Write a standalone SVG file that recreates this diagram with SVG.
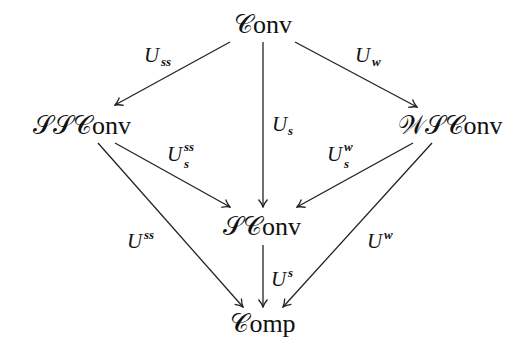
<svg xmlns="http://www.w3.org/2000/svg" width="513" height="342" viewBox="0 0 513 342">
<style>
.node{font-family:"Liberation Serif","DejaVu Serif",serif;font-size:26px;fill:#111;text-anchor:middle}
.lab{font-family:"Liberation Serif","DejaVu Serif",serif;font-style:italic;font-size:21px;fill:#111}
.sc{font-family:"Liberation Serif","DejaVu Serif",serif;font-style:italic;font-size:13px;font-weight:bold;fill:#111}
.e{stroke:#222;stroke-width:1.3;fill:none;marker-end:url(#ah)}
</style>
<defs>
<marker id="ah" markerUnits="userSpaceOnUse" viewBox="-9 -6 10 12" refX="0" refY="0" markerWidth="10" markerHeight="12" orient="auto">
<path d="M-7.5,-4.5 C-4.5,-2 -1.8,-0.6 0,0 C-1.8,0.6 -4.5,2 -7.5,4.5" stroke="#222" stroke-width="1.3" fill="none"/>
</marker>
</defs>
<g id="connectors">
<line class="e" x1="230" y1="42" x2="115" y2="105"/>
<line class="e" x1="295" y1="42" x2="417" y2="107"/>
<line class="e" x1="263" y1="42" x2="263" y2="207"/>
<line class="e" x1="115" y1="143" x2="230" y2="207"/>
<line class="e" x1="413" y1="143" x2="297" y2="207"/>
<line class="e" x1="98" y1="143" x2="243" y2="307"/>
<line class="e" x1="432" y1="143" x2="283" y2="307"/>
<line class="e" x1="263" y1="245" x2="263" y2="307"/>
</g>
<g id="labels">
<text class="lab" x="144" y="62">U</text><text class="sc" x="161" y="66">ss</text>
<text class="lab" x="355" y="62">U</text><text class="sc" x="372" y="66">w</text>
<text class="lab" x="272" y="131">U</text><text class="sc" x="288" y="135">s</text>
<text class="lab" x="167" y="161">U</text><text class="sc" x="184" y="151">ss</text><text class="sc" x="184" y="168">s</text>
<text class="lab" x="327" y="161">U</text><text class="sc" x="344" y="151">w</text><text class="sc" x="344" y="168">s</text>
<text class="lab" x="127" y="248">U</text><text class="sc" x="144" y="239">ss</text>
<text class="lab" x="367" y="248">U</text><text class="sc" x="384" y="239">w</text>
<text class="lab" x="271" y="286">U</text><text class="sc" x="288" y="277">s</text>
</g>
<g id="Conv"><text class="node" x="263" y="33">𝒞onv</text></g>
<g id="SSConv"><text class="node" x="82" y="134">𝒮𝒮𝒞onv</text></g>
<g id="WSConv"><text class="node" x="450" y="134">𝒲𝒮𝒞onv</text></g>
<g id="SConv"><text class="node" x="262" y="235">𝒮𝒞onv</text></g>
<g id="Comp"><text class="node" x="263" y="332">𝒞omp</text></g>
</svg>
